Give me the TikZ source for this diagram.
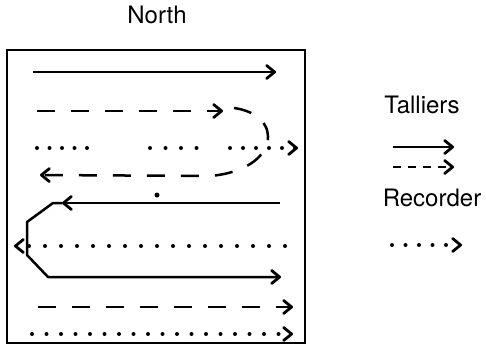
\documentclass[tikz,border=0pt]{standalone}
\usepackage{fontspec}
\setmainfont{TeX Gyre Heros}
\usetikzlibrary{arrows.meta}

\begin{document}
\begin{tikzpicture}[x=1pt, y=-1pt,
        tip/.style={-{Straight Barb[length=8pt,width=13pt,line width=2.8pt,round]}},
        tally/.style={line width=2.5pt, line join=round, tip},
        tallydash/.style={tally, dash pattern=on 18pt off 16pt},
        dots/.style={line width=4pt, line cap=round, dash pattern=on 0pt off #1},
        dots/.default=16pt,
        recdots/.style={dots=#1, tip},
        recdots/.default=16pt,
        lbl/.style={font=\fontsize{24}{28}\selectfont}]
        \useasboundingbox (0,0) rectangle (486,345);

        % the field
        \coordinate (nw) at (7,50);
        \coordinate (se) at (305,343);
        \draw[line width=2.5pt] (nw) rectangle (se);
        \node[lbl] (north) at (157,15) {North};

        % top rows
        \coordinate (r1w) at (33,72);
        \coordinate (r1e) at (276,72);
        \draw[tally] (r1w) -- (r1e);

        \coordinate (r2w) at (37,111);
        \coordinate (r2e) at (223,111);
        \draw[tallydash] (r2w) -- (r2e);

        \coordinate (u1) at (234,108);
        \coordinate (u2) at (210,176);
        \coordinate (r4w) at (40,175);
        \draw[tallydash] (u1) .. controls (285,115) and (280,170) .. (u2) -- (r4w);

        \coordinate (d1) at (37,148);
        \coordinate (d2) at (87,148);
        \coordinate (d3) at (150,148);
        \coordinate (d4) at (197,148);
        \coordinate (d5) at (230,148);
        \coordinate (d6) at (298,148);
        \draw[dots=12.5pt] (d1) -- (d2);
        \draw[dots=15.5pt] (d3) -- (d4);
        \draw[recdots=13pt] (d5) -- (d6);

        \fill (157,195) circle (2.5);

        % loop on the west side
        \coordinate (s1) at (280,203);
        \coordinate (s2) at (62,203);
        \coordinate (s3) at (53,203);
        \coordinate (s4) at (27,222);
        \coordinate (s5) at (27,255);
        \coordinate (s6) at (48,277);
        \coordinate (s7) at (281,277);
        \draw[tally] (s1) -- (s2);
        \draw[tally] (s2) -- (s3) -- (s4) -- (s5) -- (s6) -- (s7);

        \coordinate (r6e) at (285,246);
        \coordinate (r6w) at (14,246);
        \draw[recdots] (r6e) -- (r6w);

        % bottom rows
        \coordinate (r7w) at (38,307);
        \coordinate (r7e) at (293,307);
        \draw[tallydash] (r7w) -- (r7e);

        \coordinate (r8w) at (32,334);
        \coordinate (r8e) at (293,334);
        \draw[recdots=14.5pt] (r8w) -- (r8e);

        % key
        \node[lbl] (talliers) at (422,105) {Talliers};
        \coordinate (k1w) at (393,147);
        \coordinate (k1e) at (454,147);
        \coordinate (k2w) at (393,167);
        \coordinate (k2e) at (454,167);
        \draw[tally] (k1w) -- (k1e);
        \draw[tally, dash pattern=on 8pt off 7pt] (k2w) -- (k2e);

        \node[lbl] (recorder) at (432,198) {Recorder};
        \coordinate (k3w) at (392,245);
        \coordinate (k3e) at (462,245);
        \draw[recdots=13.5pt] (k3w) -- (k3e);
\end{tikzpicture}
\end{document}
